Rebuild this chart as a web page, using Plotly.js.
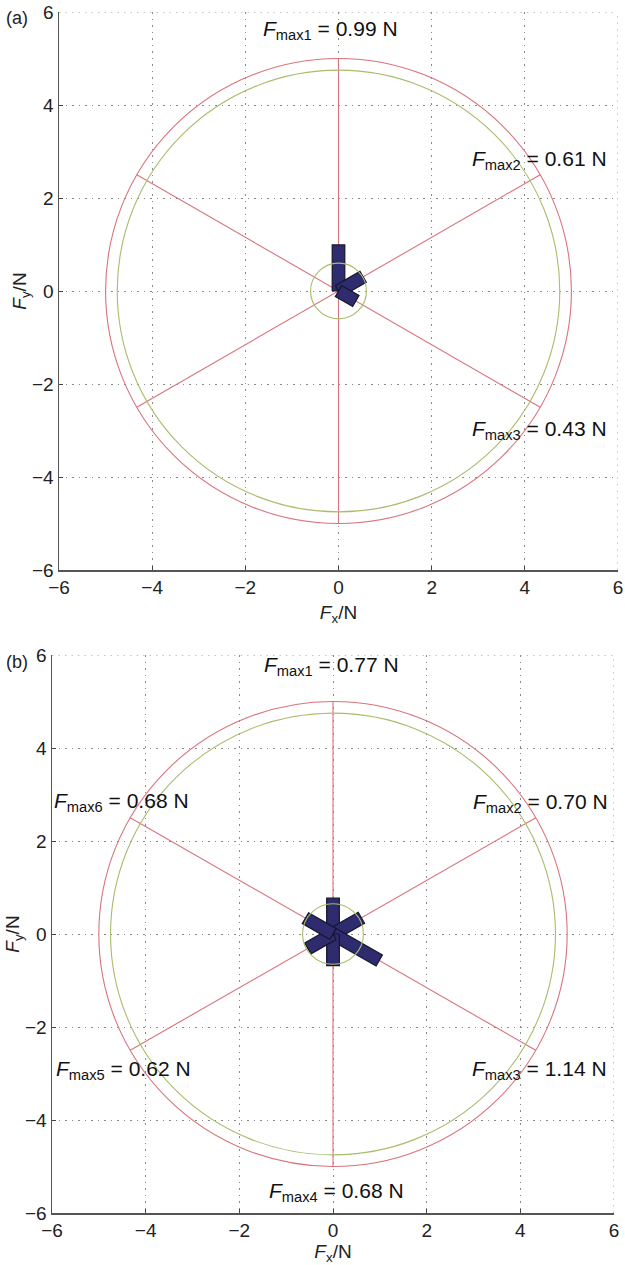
<!DOCTYPE html>
<html>
<head>
<meta charset="utf-8">
<script src="https://cdn.plot.ly/plotly-3.0.1.min.js"></script>
<style>html,body{margin:0;padding:0;background:#fff;}#chart{width:625px;height:1265px;}</style>
</head>
<body>
<div id="chart"></div>
<script>
// ---- data ----
const tickVals = [-6, -4, -2, 0, 2, 4, 6];
const outerRadius = 5;      // red circle
const innerRadius = 4.75;   // green circle
const smallRadiusA = 0.6;   // small green circle (a)
const smallRadiusB = 0.65;  // small green circle (b)
const spokeAngles = [90, 30, -30];          // diameters (deg)

const anglesA = [90, 30, -30];
const forcesA = [0.99, 0.61, 0.43];
const labelsA = ["max1", "max2", "max3"];
const labelPosAx = [-0.17, 4.32, 4.32];
const labelPosAy = [5.62, 2.82, -2.99];

const anglesB = [90, 30, -30, -90, 210, 150];
const forcesB = [0.77, 0.70, 1.14, 0.68, 0.62, 0.68];
const labelsB = ["max1", "max2", "max3", "max4", "max5", "max6"];
const labelPosBx = [-0.04, 4.43, 4.41, 0.08, -4.47, -4.52];
const labelPosBy = [5.76, 2.82, -2.92, -5.55, -2.92, 2.84];

// ---- styles ----
const FONT = 'Liberation Sans, Arial, Helvetica, sans-serif';
const RED = '#d9737d';
const GREEN = '#a9bd6c';
const NAVY = '#2e2c6e';
const GRID = '#8a8a8a';
const GRID_DASH = '1.5px,5px';
const BAR_HALF = 0.135;

const traces = [];
const shapes = [];
const annotations = [];

function addPanel(xa, ya, angles, forces, labels, lx, ly, smallR) {
  const xref = xa, yref = ya;
  // dotted frame at top / right (grid at +6)
  shapes.push({type: 'line', xref: xref, yref: yref, x0: -6, x1: 6, y0: 6, y1: 6,
               line: {color: GRID, width: 1, dash: GRID_DASH}, layer: 'below'});
  shapes.push({type: 'line', xref: xref, yref: yref, x0: 6, x1: 6, y0: -6, y1: 6,
               line: {color: GRID, width: 1, dash: GRID_DASH}, layer: 'below'});
  // circles
  [[outerRadius, RED], [innerRadius, GREEN], [smallR, GREEN]].forEach(([r, c]) => {
    shapes.push({type: 'circle', xref: xref, yref: yref, x0: -r, x1: r, y0: -r, y1: r,
                 line: {color: c, width: 1.1}, layer: 'above'});
  });
  // spokes (diameters)
  spokeAngles.forEach(a => {
    const t = a * Math.PI / 180;
    traces.push({type: 'scatter', mode: 'lines', xaxis: xa, yaxis: ya, hoverinfo: 'skip',
      x: [-outerRadius * Math.cos(t), outerRadius * Math.cos(t)],
      y: [-outerRadius * Math.sin(t), outerRadius * Math.sin(t)],
      line: {color: RED, width: 1.1}, showlegend: false});
  });
  // force bars
  angles.forEach((a, i) => {
    const t = a * Math.PI / 180;
    const L = forces[i];
    const ux = Math.cos(t), uy = Math.sin(t);
    const px = -uy * BAR_HALF, py = ux * BAR_HALF;
    traces.push({type: 'scatter', mode: 'lines', xaxis: xa, yaxis: ya, hoverinfo: 'skip',
      x: [px, L * ux + px, L * ux - px, -px, px],
      y: [py, L * uy + py, L * uy - py, -py, py],
      fill: 'toself', fillcolor: NAVY, line: {color: '#15152a', width: 1.2}, showlegend: false});
  });
  // labels
  labels.forEach((s, i) => {
    annotations.push({xref: xref, yref: yref, x: lx[i], y: ly[i], showarrow: false,
      text: '<i>F</i><sub>' + s + '</sub> = ' + forces[i].toFixed(2) + ' N',
      font: {family: FONT, size: 21, color: '#111'}});
  });
}

addPanel('x', 'y', anglesA, forcesA, labelsA, labelPosAx, labelPosAy, smallRadiusA);
addPanel('x2', 'y2', anglesB, forcesB, labelsB, labelPosBx, labelPosBy, smallRadiusB);

annotations.push({xref: 'paper', yref: 'paper', x: 0.006, y: 0.986, xanchor: 'left', yanchor: 'middle',
  showarrow: false, text: '(a)', font: {family: FONT, size: 18, color: '#222'}});
annotations.push({xref: 'paper', yref: 'paper', x: 0.006, y: 0.477, xanchor: 'left', yanchor: 'middle',
  showarrow: false, text: '(b)', font: {family: FONT, size: 18, color: '#222'}});

function axis(domain, title, anchor, standoff) {
  return {
    domain: domain, range: [-6, 6], anchor: anchor,
    tickvals: tickVals, ticktext: tickVals.map(v => v < 0 ? '\u2212' + Math.abs(v) : String(v)),
    ticks: 'inside', ticklen: 4, tickcolor: '#444', tickwidth: 1,
    showline: true, linecolor: '#555', linewidth: 1.5, mirror: false,
    showgrid: true, gridcolor: GRID, griddash: GRID_DASH, gridwidth: 1,
    zeroline: false, automargin: false,
    tickfont: {family: FONT, size: 19, color: '#222'},
    title: {text: title, font: {family: FONT, size: 19, color: '#222'}, standoff: standoff},
    fixedrange: true
  };
}

const layout = {
  width: 625, height: 1265,
  margin: {l: 0, r: 0, t: 0, b: 0},
  paper_bgcolor: '#fff', plot_bgcolor: '#fff',
  showlegend: false,
  xaxis: axis([59 / 625, 618 / 625], '<i>F</i><sub>x</sub>/N', 'y', 8),
  yaxis: axis([1 - 570 / 1265, 1 - 12 / 1265], '<i>F</i><sub>y</sub>/N', 'x', 0),
  xaxis2: axis([52 / 625, 614 / 625], '<i>F</i><sub>x</sub>/N', 'y2', 2),
  yaxis2: axis([1 - 1213 / 1265, 1 - 655 / 1265], '<i>F</i><sub>y</sub>/N', 'x2', 0),
  shapes: shapes,
  annotations: annotations
};

Plotly.newPlot('chart', traces, layout, {staticPlot: true, displayModeBar: false});
</script>
</body>
</html>
